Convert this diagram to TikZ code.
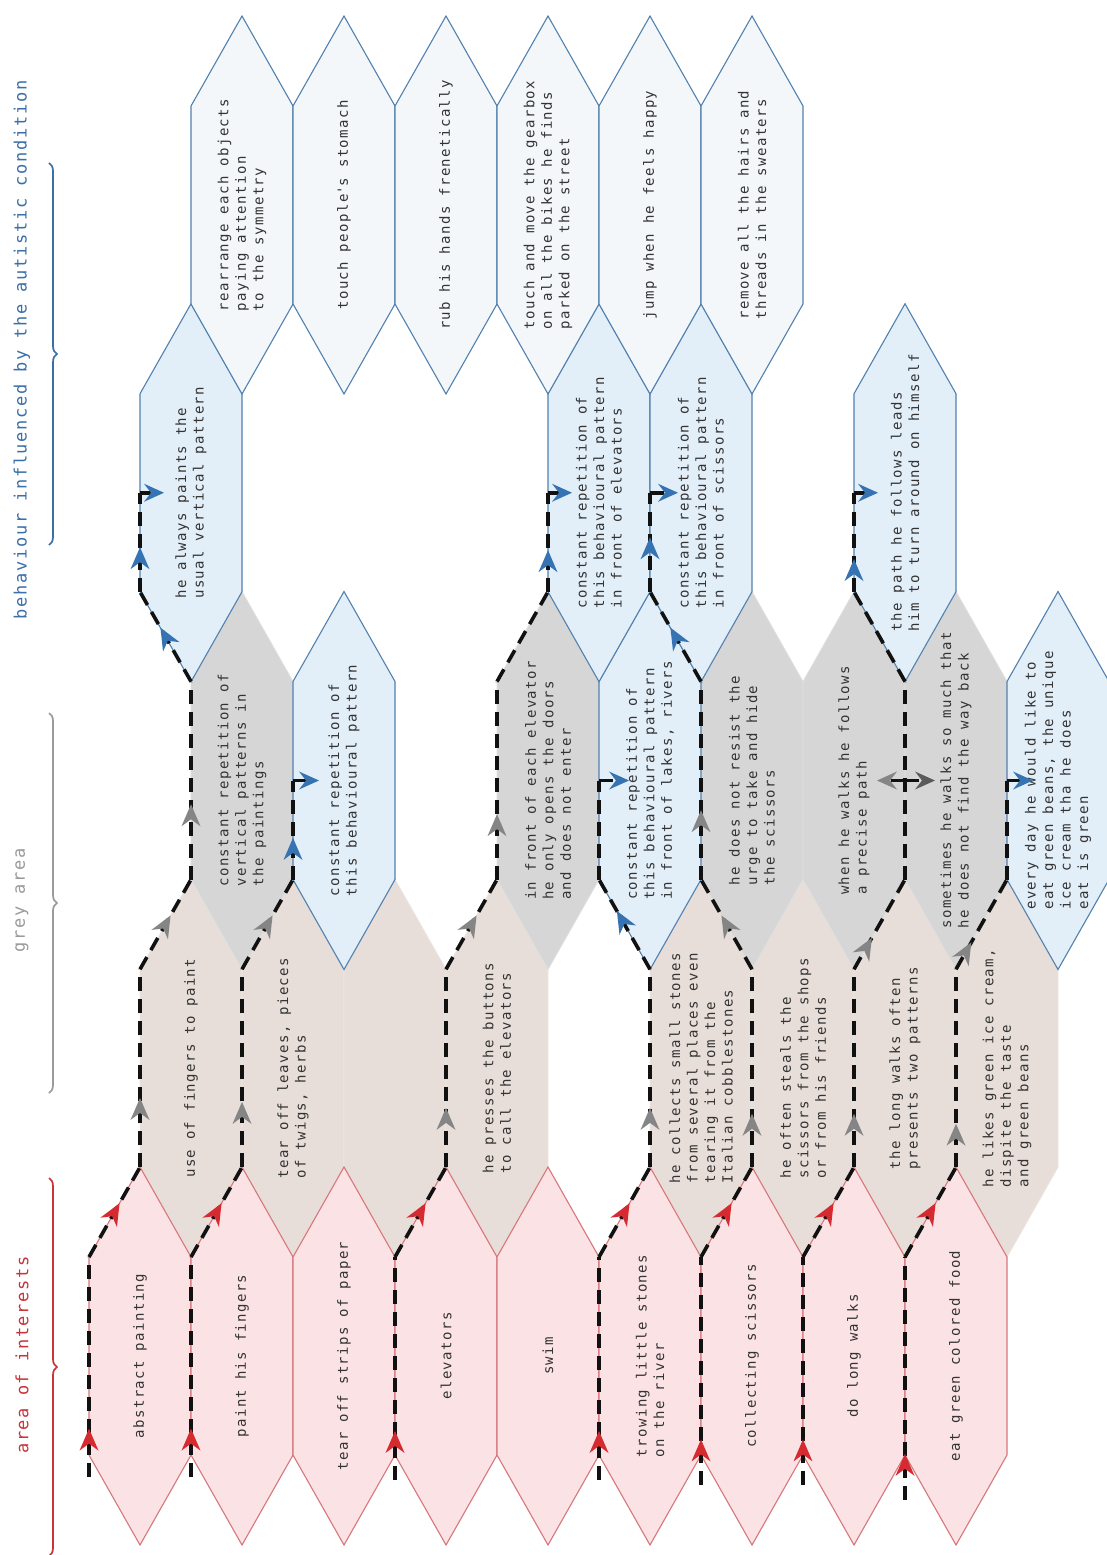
\documentclass[tikz,border=0pt]{standalone}
\usepackage{fontspec}
\newfontfamily\hexfont[LetterSpace=10]{DejaVu Sans Mono}
\usetikzlibrary{arrows.meta,decorations.markings,decorations.pathreplacing}
\definecolor{pinkf}{HTML}{FBE3E5}
\definecolor{pinkd}{HTML}{D7777C}
\definecolor{beigef}{HTML}{E7DDD9}
\definecolor{beiged}{HTML}{EEE7E4}
\definecolor{greyf}{HTML}{D6D6D6}
\definecolor{greyd}{HTML}{E0E0E0}
\definecolor{bluef}{HTML}{E2EEF8}
\definecolor{blued}{HTML}{5381AE}
\definecolor{palef}{HTML}{F3F7FA}
\definecolor{txt}{HTML}{333333}
\definecolor{flowc}{HTML}{111111}
\definecolor{arrr}{HTML}{D42A30}
\definecolor{arrg}{HTML}{858585}
\definecolor{arrgd}{HTML}{5A5A5A}
\definecolor{arrb}{HTML}{3573B2}
\definecolor{labred}{HTML}{C9343C}
\definecolor{labgrey}{HTML}{9A9A9A}
\definecolor{labblue}{HTML}{3A6FA8}
\newcommand{\hexcell}[5]{%
  \pgfmathsetmacro{\hcx}{140+51*#2}%
  \pgfmathsetmacro{\hcy}{1356-287.75*#3}%
  \coordinate (#1-t) at (\hcx,\hcy-189);
  \coordinate (#1-ur) at (\hcx+51,\hcy-99);
  \coordinate (#1-lr) at (\hcx+51,\hcy+99);
  \coordinate (#1-b) at (\hcx,\hcy+189);
  \coordinate (#1-ll) at (\hcx-51,\hcy+99);
  \coordinate (#1-ul) at (\hcx-51,\hcy-99);
  \coordinate (#1-w) at (\hcx-51,\hcy);
  \coordinate (#1-e) at (\hcx+51,\hcy);
  \path[#4] (#1-t) -- (#1-ur) -- (#1-lr) -- (#1-b) -- (#1-ll) -- (#1-ul) -- cycle;
  \node[hextext] (#1) at (\hcx,\hcy) {#5};
}
\begin{document}
\begin{tikzpicture}[x=1pt,y=-1pt,
  hextext/.style={font=\hexfont\fontsize{14}{17.5}\selectfont, text=txt, rotate=90, align=left, inner sep=0pt},
  lbl/.style={font=\hexfont\fontsize{17}{20}\selectfont, rotate=90, inner sep=0pt},
  pinkhex/.style={fill=pinkf, draw=pinkd, line width=1.1pt},
  beigehex/.style={fill=beigef, draw=beiged, line width=0.8pt},
  greyhex/.style={fill=greyf, draw=greyd, line width=0.8pt},
  bluehex/.style={fill=bluef, draw=blued, line width=1.1pt},
  palehex/.style={fill=palef, draw=blued, line width=1.1pt},
  flow/.style={draw=flowc, line width=3.6pt, dash pattern=on 14pt off 8pt},
  mk/.style 2 args={postaction={decorate,decoration={markings,mark=at position #1 with {\arrow{Stealth[length=22pt,width=19pt,inset=7pt,line width=0pt,color=#2]}}}}},
  tipend/.style={-{Stealth[length=20pt,width=18pt,inset=7pt,line width=0pt,color=#1]}},
  bracestyle/.style={decorate, decoration={brace,amplitude=8pt}, line width=1.7pt}
]
\fill[white] (0,0) rectangle (1107,1555);
\useasboundingbox (0,0) rectangle (1107,1555);

% grey area: row 1 (beige)
\hexcell{uf}{1}{1}{beigehex}{use of fingers to paint}
\hexcell{tl}{3}{1}{beigehex}{tear off leaves, pieces\\of twigs, herbs}
\hexcell{gb}{5}{1}{beigehex}{}
\hexcell{hp}{7}{1}{beigehex}{he presses the buttons\\to call the elevators}
\hexcell{hc}{11}{1}{beigehex}{he collects small stones\\from several places even\\tearing it from the\\Italian cobblestones}
\hexcell{hs}{13}{1}{beigehex}{he often steals the\\scissors from the shops\\or from his friends}
\hexcell{lw}{15}{1}{beigehex}{the long walks often\\presents two patterns}
\hexcell{li}{17}{1}{beigehex}{he likes green ice cream,\\dispite the taste\\and green beans}
% grey area: row 2 (grey)
\hexcell{cv}{2}{2}{greyhex}{constant repetition of\\vertical patterns in\\the paintings}
\hexcell{fe}{8}{2}{greyhex}{in front of each elevator\\he only opens the doors\\and does not enter}
\hexcell{nr}{12}{2}{greyhex}{he does not resist the\\urge to take and hide\\the scissors}
\hexcell{ww}{14}{2}{greyhex}{when he walks he follows\\a precise path}
\hexcell{sm}{16}{2}{greyhex}{sometimes he walks so much that\\he does not find the way back}

% area of interests: row 0
\hexcell{ab}{0}{0}{pinkhex}{abstract painting}
\hexcell{pf}{2}{0}{pinkhex}{paint his fingers}
\hexcell{ts}{4}{0}{pinkhex}{tear off strips of paper}
\hexcell{el}{6}{0}{pinkhex}{elevators}
\hexcell{sw}{8}{0}{pinkhex}{swim}
\hexcell{tr}{10}{0}{pinkhex}{trowing little stones\\on the river}
\hexcell{cs}{12}{0}{pinkhex}{collecting scissors}
\hexcell{dl}{14}{0}{pinkhex}{do long walks}
\hexcell{eg}{16}{0}{pinkhex}{eat green colored food}

% behaviour: rows 2 and 3 (blue)
\hexcell{cb}{4}{2}{bluehex}{constant repetition of\\this behavioural pattern}
\hexcell{cl}{10}{2}{bluehex}{constant repetition of\\this behavioural pattern\\in front of lakes, rivers}
\hexcell{ed}{18}{2}{bluehex}{every day he would like to\\eat green beans, the unique\\ice cream tha he does\\eat is green}
\hexcell{ap}{1}{3}{bluehex}{he always paints the\\usual vertical pattern}
\hexcell{ce}{9}{3}{bluehex}{constant repetition of\\this behavioural pattern\\in front of elevators}
\hexcell{cx}{11}{3}{bluehex}{constant repetition of\\this behavioural pattern\\in front of scissors}
\hexcell{ph}{15}{3}{bluehex}{the path he follows leads\\him to turn around on himself}
% behaviour: row 4 (pale)
\hexcell{ra}{2}{4}{palehex}{rearrange each objects\\paying attention\\to the symmetry}
\hexcell{tp}{4}{4}{palehex}{touch people\textquotesingle s stomach}
\hexcell{rh}{6}{4}{palehex}{rub his hands frenetically}
\hexcell{tg}{8}{4}{palehex}{touch and move the gearbox\\on all the bikes he finds\\parked on the street}
\hexcell{jh}{10}{4}{palehex}{jump when he feels happy}
\hexcell{rm}{12}{4}{palehex}{remove all the hairs and\\threads in the sweaters}

% ---- flows ----
% abstract painting
\draw[flow, mk={0.22}{arrr}] ([yshift=-22pt]ab-ll) -- (ab-ul);
\draw[flow, mk={0.6}{arrr}] (ab-ul) -- (uf-ll);
\draw[flow, mk={0.35}{arrg}] (uf-ll) -- (uf-ul);
\draw[flow, mk={0.6}{arrg}] (uf-ul) -- (cv-ll);
\draw[flow, mk={0.38}{arrg}] (cv-ll) -- (cv-ul);
\draw[flow, mk={0.6}{arrb}] (cv-ul) -- (ap-ll);
\draw[flow, mk={0.45}{arrb}] (ap-ll) -- (ap-w);
\draw[flow, tipend=arrb] (ap-w) -- ++(24,0);
% paint his fingers
\draw[flow, mk={0.22}{arrr}] ([yshift=-22pt]pf-ll) -- (pf-ul);
\draw[flow, mk={0.6}{arrr}] (pf-ul) -- (tl-ll);
\draw[flow, mk={0.33}{arrg}] (tl-ll) -- (tl-ul);
\draw[flow, mk={0.6}{arrg}] (tl-ul) -- (cb-ll);
\draw[flow, mk={0.42}{arrb}] (cb-ll) -- (cb-w);
\draw[flow, tipend=arrb] (cb-w) -- ++(26,0);
% elevators
\draw[flow, mk={0.22}{arrr}] ([yshift=-25pt]el-ll) -- (el-ul);
\draw[flow, mk={0.6}{arrr}] (el-ul) -- (hp-ll);
\draw[flow, mk={0.3}{arrg}] (hp-ll) -- (hp-ul);
\draw[flow, mk={0.6}{arrg}] (hp-ul) -- (fe-ll);
\draw[flow, mk={0.33}{arrg}] (fe-ll) -- (fe-ul);
\draw[flow] (fe-ul) -- (ce-ll);
\draw[flow, mk={0.42}{arrb}] (ce-ll) -- (ce-w);
\draw[flow, tipend=arrb] (ce-w) -- ++(24,0);
% trowing little stones
\draw[flow, mk={0.22}{arrr}] ([yshift=-25pt]tr-ll) -- (tr-ul);
\draw[flow, mk={0.6}{arrr}] (tr-ul) -- (hc-ll);
\draw[flow, mk={0.3}{arrg}] (hc-ll) -- (hc-ul);
\draw[flow, mk={0.65}{arrb}] (hc-ul) -- (cl-ll);
\draw[flow] (cl-ll) -- (cl-w);
\draw[flow, tipend=arrb] (cl-w) -- ++(30,0);
% collecting scissors
\draw[flow, mk={0.2}{arrr}] ([yshift=-30pt]cs-ll) -- (cs-ul);
\draw[flow, mk={0.6}{arrr}] (cs-ul) -- (hs-ll);
\draw[flow, mk={0.27}{arrg}] (hs-ll) -- (hs-ul);
\draw[flow, mk={0.6}{arrg}] (hs-ul) -- (nr-ll);
\draw[flow, mk={0.35}{arrg}] (nr-ll) -- (nr-ul);
\draw[flow, mk={0.6}{arrb}] (nr-ul) -- (cx-ll);
\draw[flow, mk={0.55}{arrb}] (cx-ll) -- (cx-w);
\draw[flow, tipend=arrb] (cx-w) -- ++(28,0);
% do long walks
\draw[flow, mk={0.2}{arrr}] ([yshift=-30pt]dl-ll) -- (dl-ul);
\draw[flow, mk={0.6}{arrr}] (dl-ul) -- (lw-ll);
\draw[flow, mk={0.27}{arrg}] (lw-ll) -- (lw-ul);
\draw[flow, mk={0.35}{arrg}] (lw-ul) -- (sm-ll);
\draw[flow] (sm-ll) -- (sm-ul);
\draw[flow, tipend=arrg] (ww-e) -- ++(-28,0);
\draw[flow, tipend=arrgd] (ww-e) -- ++(30,0);
\draw[flow] (sm-ul) -- (ph-ll);
\draw[flow, mk={0.33}{arrb}] (ph-ll) -- (ph-w);
\draw[flow, tipend=arrb] (ph-w) -- ++(24,0);
% eat green colored food
\draw[flow, mk={0.19}{arrr}] ([yshift=-45pt]eg-ll) -- (eg-ul);
\draw[flow, mk={0.6}{arrr}] (eg-ul) -- (li-ll);
\draw[flow, mk={0.22}{arrg}] (li-ll) -- (li-ul);
\draw[flow, mk={0.3}{arrg}] (li-ul) -- (ed-ll);
\draw[flow] (ed-ll) -- (ed-w);
\draw[flow, tipend=arrb] (ed-w) -- ++(26,0);

% ---- braces and labels ----
\draw[bracestyle, draw=labred] (49,1178) -- (49,1556);
\draw[bracestyle, draw=labgrey] (49,713) -- (49,1093);
\draw[bracestyle, draw=labblue] (49,163) -- (49,545);
\node[lbl, text=labred] (lai) at (22,1355) {area of interests};
\node[lbl, text=labgrey] (lga) at (22,900) {grey area};
\node[lbl, text=labblue] (lbh) at (22,350) {behaviour influenced by the autistic condition};
\end{tikzpicture}
\end{document}
